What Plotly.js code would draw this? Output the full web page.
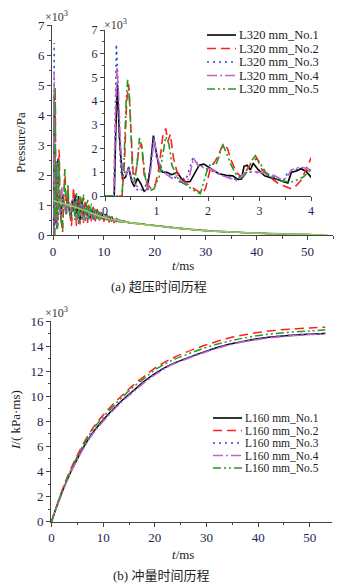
<!DOCTYPE html>
<html><head><meta charset="utf-8">
<script src="https://cdn.plot.ly/plotly-3.0.1.min.js"></script>
<style>html,body{margin:0;padding:0;background:#fff}#c{width:343px;height:588px}</style>
</head><body><div id="c"></div>
<script>
// ---------- DATA: overpressure (x10^3 Pa) vs t (ms) ----------
const NAMES_P = ["L320 mm_No.1","L320 mm_No.2","L320 mm_No.3","L320 mm_No.4","L320 mm_No.5"];
const NAMES_I = ["L160 mm_No.1","L160 mm_No.2","L160 mm_No.3","L160 mm_No.4","L160 mm_No.5"];

// early part (0-4 ms), per series
const T1 = [0,0.18,0.21,0.24,0.28,0.34,0.40,0.46,0.52,0.57,0.63,0.70,0.76,0.82,0.88,0.94,0.99,1.05,1.12,1.2,1.3,1.4,1.48,1.55,1.65,1.75,1.83,1.92,2.05,2.2,2.35,2.48,2.58,2.65,2.7,2.76,2.82,2.88,2.98,3.1,3.25,3.35,3.47,3.55,3.62,3.72,3.8,3.9,4.0];
const P1 = [0,0,2.8,4.7,2.5,0.7,0.8,1.2,0.6,0.4,0.75,0.5,0.2,0.3,1.2,2.55,1.9,1.2,1.0,1.0,0.9,1.0,0.75,0.6,0.6,1.0,1.3,1.35,1.15,0.95,0.87,0.85,0.7,0.72,1.25,1.3,1.1,1.37,1.1,0.85,0.75,0.7,0.6,0.55,1.0,1.05,1.15,1.05,0.8];
const T2 = [0,0.33,0.38,0.42,0.46,0.5,0.55,0.6,0.66,0.71,0.76,0.82,0.9,0.98,1.05,1.12,1.18,1.22,1.27,1.33,1.4,1.5,1.6,1.7,1.8,1.88,1.95,2.05,2.15,2.25,2.3,2.38,2.45,2.55,2.65,2.75,2.85,2.95,3.05,3.2,3.35,3.5,3.62,3.72,3.82,3.9,4.0];
const P2 = [0,0,1.5,4.0,4.7,2.8,0.8,1.0,2.0,2.2,0.9,0.5,0.3,0.5,1.2,2.5,2.85,2.3,2.6,1.6,1.0,0.8,0.5,0.35,0.2,0.1,0.3,1.2,1.5,2.0,2.2,2.0,1.5,1.0,0.8,1.1,1.4,1.6,1.1,0.8,0.55,0.4,0.3,0.45,0.7,1.1,1.6];
const T3 = [0,0.17,0.2,0.22,0.24,0.27,0.31,0.36,0.41,0.46,0.52,0.58,0.64,0.7,0.76,0.82,0.88,0.94,1.0,1.06,1.15,1.25,1.35,1.45,1.55,1.62,1.7,1.78,1.88,2.0,2.15,2.3,2.45,2.55,2.65,2.75,2.9,3.05,3.2,3.35,3.45,3.55,3.7,3.8,3.9,4.0];
const P3 = [0,0,3.5,6.4,5.5,3.0,1.0,0.9,1.1,1.2,0.7,0.5,0.2,0.25,0.3,0.6,1.2,2.55,1.6,1.3,1.0,0.9,0.8,0.6,0.55,1.0,1.55,1.4,1.25,1.1,1.0,0.85,0.75,0.7,0.9,1.0,1.0,0.95,0.85,0.75,0.6,1.0,1.1,1.2,1.1,1.0];
const T4 = [0,0.17,0.2,0.23,0.26,0.3,0.35,0.41,0.46,0.52,0.58,0.65,0.72,0.78,0.84,0.9,0.95,1.02,1.1,1.2,1.3,1.4,1.5,1.57,1.63,1.72,1.8,1.9,2.05,2.2,2.35,2.5,2.58,2.7,2.85,3.0,3.15,3.3,3.42,3.52,3.62,3.75,3.85,4.0];
const P4 = [0,0,3.0,5.45,4.5,2.2,0.8,0.9,1.15,0.7,0.5,0.35,0.25,0.2,0.4,1.3,2.4,1.6,1.1,0.9,0.75,0.85,0.6,0.5,0.75,1.6,1.3,1.2,1.15,0.95,0.8,0.7,0.65,0.95,1.05,1.0,0.95,0.85,0.7,0.75,1.1,1.2,1.2,1.1];
const T5 = [0,0.33,0.37,0.41,0.44,0.48,0.53,0.58,0.63,0.67,0.72,0.78,0.85,0.95,1.05,1.12,1.18,1.24,1.3,1.38,1.46,1.55,1.65,1.75,1.85,1.92,2.0,2.08,2.15,2.22,2.28,2.36,2.45,2.55,2.65,2.75,2.85,2.92,3.0,3.12,3.25,3.4,3.55,3.65,3.75,3.85,3.95,4.0];
const P5 = [0,0,1.5,4.0,4.9,4.0,1.2,0.6,1.5,2.45,2.0,0.8,0.2,0.3,0.8,1.8,2.5,2.2,1.3,0.9,0.6,0.5,0.35,0.2,0.1,0.6,1.2,1.4,1.3,1.7,2.2,1.8,1.3,0.9,0.7,1.0,1.5,1.7,1.4,1.0,0.8,0.65,0.6,0.6,0.7,0.8,1.0,1.1];

// later part (4-53 ms), shared time base
const TAIL_T = [4.3,4.6,5.0,5.3,5.7,6.0,6.4,6.8,7.1,7.5,7.9,8.3,8.7,9.1,9.5,10,10.5,11,11.5,12,12.5,13,14,15,16.5,18,20,22,25,28,31,34,37,40,43,46,49,51,53];
const TAIL1 = [1.35,0.55,1.3,0.5,1.15,0.6,1.1,0.55,0.95,0.5,0.9,0.5,0.85,0.5,0.75,0.5,0.7,0.45,0.62,0.45,0.55,0.44,0.46,0.41,0.38,0.35,0.31,0.27,0.22,0.17,0.13,0.1,0.08,0.06,0.045,0.03,0.02,0.01,0];
const TAIL2 = [1.0,0.3,1.2,0.35,1.25,0.4,1.15,0.4,1.05,0.45,0.95,0.45,0.85,0.45,0.76,0.45,0.68,0.42,0.6,0.42,0.52,0.43,0.44,0.42,0.37,0.36,0.3,0.28,0.21,0.17,0.14,0.1,0.08,0.06,0.04,0.03,0.02,0.01,0];
const TAIL3 = [0.6,1.2,0.4,1.1,0.5,1.0,0.55,0.95,0.5,0.9,0.5,0.8,0.55,0.75,0.5,0.65,0.5,0.6,0.48,0.55,0.45,0.5,0.44,0.4,0.38,0.34,0.31,0.26,0.22,0.17,0.13,0.1,0.08,0.06,0.045,0.03,0.02,0.01,0];
const TAIL4 = [1.1,0.5,1.0,0.6,1.05,0.45,0.95,0.55,0.9,0.5,0.85,0.55,0.8,0.5,0.72,0.52,0.66,0.48,0.6,0.46,0.54,0.45,0.45,0.41,0.38,0.35,0.3,0.27,0.22,0.17,0.13,0.1,0.08,0.06,0.04,0.03,0.02,0.01,0];
const TAIL5 = [0.5,1.4,0.35,1.3,0.5,1.35,0.45,1.2,0.5,1.05,0.5,0.9,0.5,0.82,0.48,0.7,0.5,0.62,0.46,0.56,0.44,0.5,0.45,0.41,0.38,0.35,0.31,0.27,0.22,0.17,0.13,0.1,0.08,0.06,0.045,0.03,0.02,0.01,0];

// light green smooth curve drawn over the band
const FIT_T = [0,2,4,6,8,10,13,16,20,25,30,35,40,45,50,54];
const FIT_P = [1.15,1.05,0.95,0.83,0.7,0.58,0.47,0.39,0.31,0.22,0.14,0.1,0.06,0.035,0.015,0];

// ---------- DATA: impulse (x10^3) vs t (ms) ----------
const TI = [0,1,2,3,4,5,6,8,10,12,14,16,18,20,23,26,30,34,38,42,46,50,53];
const I1 = [0,1.2,2.3,3.3,4.2,5.0,5.8,7.1,8.1,9.0,9.8,10.5,11.2,11.8,12.5,13.0,13.6,14.1,14.45,14.7,14.85,14.95,15.0];
const I2 = [0,1.3,2.45,3.5,4.45,5.3,6.1,7.45,8.5,9.4,10.2,10.95,11.6,12.25,12.95,13.5,14.1,14.6,14.95,15.2,15.35,15.45,15.5];
const I3 = [0,1.2,2.3,3.3,4.2,5.0,5.8,7.1,8.1,9.0,9.8,10.5,11.2,11.8,12.5,13.0,13.6,14.1,14.45,14.7,14.86,14.96,15.02];
const I4 = [0,1.15,2.25,3.25,4.15,4.95,5.7,7.0,8.0,8.9,9.7,10.4,11.1,11.7,12.45,12.95,13.55,14.05,14.4,14.65,14.8,14.92,14.98];
const I5 = [0,1.25,2.4,3.45,4.35,5.2,6.0,7.35,8.35,9.25,10.05,10.8,11.45,12.1,12.8,13.3,13.9,14.35,14.7,14.95,15.1,15.2,15.3];

// ---------- STYLE ----------
const COLORS = ["#000000","#ff1f1f","#2b4cc8","#c863c8","#239b23"];
const DASHES = ["solid","9px,5px","2px,4px","10px,3px,2px,3px","8px,3px,2px,3px,2px,3px"];
const W = 343, H = 588;
const px = v => v / W, py = v => 1 - v / H;
const SERIF = "Liberation Serif";
const TICKC = "#1c2550";

const early = [[T1,P1],[T2,P2],[T3,P3],[T4,P4],[T5,P5]];
const tails = [TAIL1,TAIL2,TAIL3,TAIL4,TAIL5];
const IMP = [I1,I2,I3,I4,I5];

const traces = [];
for (let k = 0; k < 5; k++) {
  const x = early[k][0].concat(TAIL_T), y = early[k][1].concat(tails[k]);
  traces.push({x, y, xaxis:'x', yaxis:'y', mode:'lines', showlegend:false,
    line:{color:COLORS[k], width:1.4, dash:DASHES[k]}});
}
traces.push({x:FIT_T, y:FIT_P, xaxis:'x', yaxis:'y', mode:'lines', showlegend:false,
  line:{color:'#8fd060', width:1.6, shape:'spline'}});
for (let k = 0; k < 5; k++) {
  const x = early[k][0].concat(TAIL_T), y = early[k][1].concat(tails[k]);
  traces.push({x, y, xaxis:'x2', yaxis:'y2', mode:'lines', showlegend:false,
    line:{color:COLORS[k], width:1.6, dash:DASHES[k]}});
}
for (let k = 0; k < 5; k++) {
  traces.push({x:TI, y:IMP[k], xaxis:'x3', yaxis:'y3', mode:'lines', showlegend:false,
    line:{color:COLORS[k], width:1.5, dash:DASHES[k], shape:'spline'}});
}

function ax(extra) {
  return Object.assign({
    showline:true, linecolor:'#444', linewidth:1, showgrid:false, zeroline:false,
    ticks:'outside', ticklen:4, tickwidth:1, tickcolor:'#444',
    tickfont:{family:SERIF, size:13, color:TICKC}
  }, extra);
}
const mn = d => ({ticks:'outside', ticklen:2.5, tickwidth:1, dtick:d, tickcolor:'#444'});

const layout = {
  width:W, height:H, margin:{l:0,r:0,t:0,b:0}, showlegend:false,
  paper_bgcolor:'#fff', plot_bgcolor:'rgba(0,0,0,0)',
  xaxis: ax({domain:[px(52),px(333)], range:[-0.2,55], anchor:'y', tick0:0, dtick:10, minor:mn(5)}),
  yaxis: ax({domain:[py(235),py(25)], range:[0,7], anchor:'x', tick0:0, dtick:1, minor:mn(0.5)}),
  xaxis2: ax({domain:[px(105),px(311)], range:[0,4], anchor:'y2', tick0:0, dtick:1, tickfont:{family:SERIF,size:12,color:TICKC}, minor:mn(0.5)}),
  yaxis2: ax({domain:[py(196),py(30)], range:[0,7], anchor:'x2', tick0:0, dtick:1, tickfont:{family:SERIF,size:12,color:TICKC}, minor:mn(0.5)}),
  xaxis3: ax({domain:[px(51),px(332)], range:[-0.1,54.3], anchor:'y3', tick0:0, dtick:10, minor:mn(5)}),
  yaxis3: ax({domain:[py(521.7),py(321)], range:[0,16], anchor:'x3', tick0:0, dtick:2, minor:mn(1)}),
  annotations: [], shapes: []
};

function note(text, x, y, opts) {
  layout.annotations.push(Object.assign({text, x:px(x), y:py(y), xref:'paper', yref:'paper',
    showarrow:false, xanchor:'center', yanchor:'middle',
    font:{family:SERIF, size:13, color:'#222'}}, opts||{}));
}
const SUPF = {family:SERIF, size:12, color:'#333'};
note("×10<sup>3</sup>", 43, 16, {xanchor:'left', font:SUPF});
note("×10<sup>3</sup>", 102, 25, {xanchor:'left', font:SUPF});
note("×10<sup>3</sup>", 43, 312, {xanchor:'left', font:SUPF});
note("Pressure/Pa", 20, 143, {textangle:-90});
note("<i>I</i>/( kPa·ms)", 15, 420, {textangle:-90});
note("<i>t</i>/ms", 183, 266);
note("<i>t</i>/ms", 183, 554);
const CJK = {family:"Liberation Serif, Noto Sans CJK SC", size:13, color:'#222'};
note("(a) 超压时间历程", 159, 286, {font:CJK});
note("(b) 冲量时间历程", 161, 575, {font:CJK});

// custom legends
function legend(names, x0, x1, tx, rows, fs) {
  for (let k = 0; k < 5; k++) {
    layout.shapes.push({type:'line', xref:'paper', yref:'paper', x0:px(x0), x1:px(x1), y0:py(rows[k]), y1:py(rows[k]),
      line:{color:COLORS[k], width:1.6, dash:DASHES[k]}});
    note(names[k], tx, rows[k], {xanchor:'left', font:{family:SERIF, size:fs, color:'#222'}});
  }
}
legend(NAMES_P, 207, 236, 237, [35, 48.5, 62, 75.5, 89], 12.5);
legend(NAMES_I, 213, 242, 243, [418, 430.5, 443, 455.5, 468], 11.5);

Plotly.newPlot('c', traces, layout, {staticPlot:true, displayModeBar:false});
</script></body></html>
